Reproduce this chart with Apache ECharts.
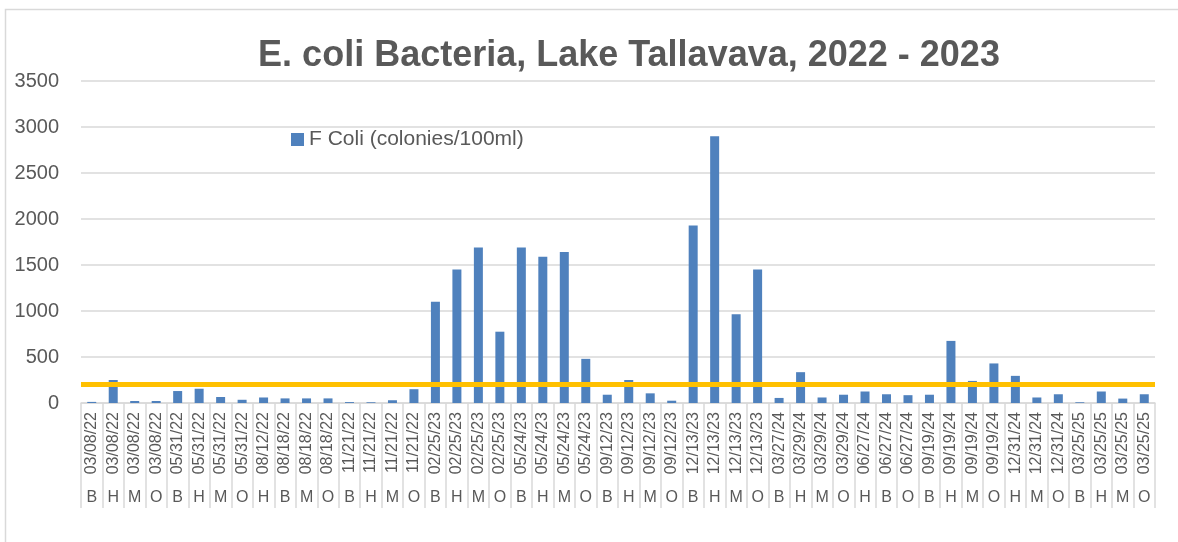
<!DOCTYPE html>
<html>
<head>
<meta charset="utf-8">
<title>E. coli Bacteria, Lake Tallavava</title>
<script src="https://cdn.jsdelivr.net/npm/echarts@6/dist/echarts.min.js"></script>
<style>
  html, body { margin: 0; padding: 0; background: #fff; }
  #chart { width: 1178px; height: 542px; }
</style>
</head>
<body>
<div id="chart"></div>
<script>
// sample dates and sites (B/H/M/O)
const sampleDates = [
  '03/08/22', '03/08/22', '03/08/22', '03/08/22',
  '05/31/22', '05/31/22', '05/31/22', '05/31/22',
  '08/12/22', '08/18/22', '08/18/22', '08/18/22',
  '11/21/22', '11/21/22', '11/21/22', '11/21/22',
  '02/25/23', '02/25/23', '02/25/23', '02/25/23',
  '05/24/23', '05/24/23', '05/24/23', '05/24/23',
  '09/12/23', '09/12/23', '09/12/23', '09/12/23',
  '12/13/23', '12/13/23', '12/13/23', '12/13/23',
  '03/27/24', '03/29/24', '03/29/24', '03/29/24',
  '06/27/24', '06/27/24', '06/27/24',
  '09/19/24', '09/19/24', '09/19/24', '09/19/24',
  '12/31/24', '12/31/24', '12/31/24',
  '03/25/25', '03/25/25', '03/25/25', '03/25/25'
]
const sampleSites = [
  'B', 'H', 'M', 'O',
  'B', 'H', 'M', 'O',
  'H', 'B', 'M', 'O',
  'B', 'H', 'M', 'O',
  'B', 'H', 'M', 'O',
  'B', 'H', 'M', 'O',
  'B', 'H', 'M', 'O',
  'B', 'H', 'M', 'O',
  'B', 'H', 'M', 'O',
  'H', 'B', 'O',
  'B', 'H', 'M', 'O',
  'H', 'M', 'O',
  'B', 'H', 'M', 'O'
]
// colonies/100ml
const fColi = [
  12, 250, 22, 22,
  130, 155, 65, 35,
  60, 50, 50, 50,
  10, 8, 30, 150,
  1100, 1450, 1690, 775,
  1690, 1590, 1640, 480,
  90, 250, 105, 25,
  1930, 2900, 965, 1450,
  55, 335, 60, 90,
  125, 95, 85,
  90, 675, 240, 430,
  295, 60, 95,
  8, 125, 48, 95
]
const yTicks = { min: 0, max: 3500, interval: 500 }
const limitValue = 200

const textColor = '#595959'
const lineColor = '#d9d9d9'
const fontName = 'Liberation Sans'

const myChart = echarts.init(document.getElementById('chart'))
const option = {
  animation: false,
  textStyle: { fontFamily: fontName },
  // outer chart border
  graphic: [
    {
      type: 'rect',
      left: 3,
      top: 7,
      shape: { width: 1190, height: 560 },
      style: { fill: 'none', stroke: lineColor, lineWidth: 1.5 },
      silent: true
    }
  ],
  title: {
    text: 'E. coli Bacteria, Lake Tallavava, 2022 - 2023',
    left: 624,
    top: 33,
    textAlign: 'center',
    textStyle: {
      color: textColor,
      fontSize: 36,
      fontWeight: 'bold',
      fontFamily: fontName
    }
  },
  legend: {
    left: 286,
    top: 124,
    icon: 'rect',
    itemWidth: 13,
    itemHeight: 13,
    textStyle: { color: textColor, fontSize: 21, fontFamily: fontName },
    data: ['F Coli (colonies/100ml)']
  },
  grid: {
    left: 81,
    right: 23,
    top: 81,
    bottom: 139,
    containLabel: false
  },
  xAxis: [
    {
      type: 'category',
      data: sampleDates,
      position: 'bottom',
      axisLine: { lineStyle: { color: lineColor, width: 1.5 } },
      axisTick: { show: true, interval: 0, length: 72, lineStyle: { color: lineColor, width: 1.5 } },
      axisLabel: {
        interval: 0,
        rotate: 90,
        margin: 9,
        color: textColor,
        fontSize: 16,
        fontFamily: fontName
      }
    },
    {
      type: 'category',
      data: sampleSites,
      position: 'bottom',
      offset: 72,
      axisLine: { show: false },
      axisTick: { show: true, interval: 0, length: 33, lineStyle: { color: lineColor, width: 1.5 } },
      axisLabel: {
        interval: 0,
        margin: 15,
        color: textColor,
        fontSize: 16,
        fontFamily: fontName
      }
    }
  ],
  yAxis: {
    type: 'value',
    min: yTicks.min,
    max: yTicks.max,
    interval: yTicks.interval,
    axisLine: { show: false },
    axisTick: { show: false },
    axisLabel: {
      color: textColor,
      fontSize: 20,
      margin: 22,
      fontFamily: fontName,
      formatter: function(v) { return String(v) }
    },
    splitLine: { lineStyle: { color: lineColor, width: 1.5 } }
  },
  series: [
    {
      name: 'F Coli (colonies/100ml)',
      type: 'bar',
      xAxisIndex: 0,
      barWidth: 9,
      data: fColi,
      itemStyle: { color: '#4F81BD' },
      markLine: {
        silent: true,
        symbol: 'none',
        label: { show: false },
        lineStyle: { color: '#FFC000', width: 5, type: 'solid' },
        data: [{ yAxis: limitValue }]
      }
    }
  ]
}
myChart.setOption(option)
</script>
</body>
</html>
